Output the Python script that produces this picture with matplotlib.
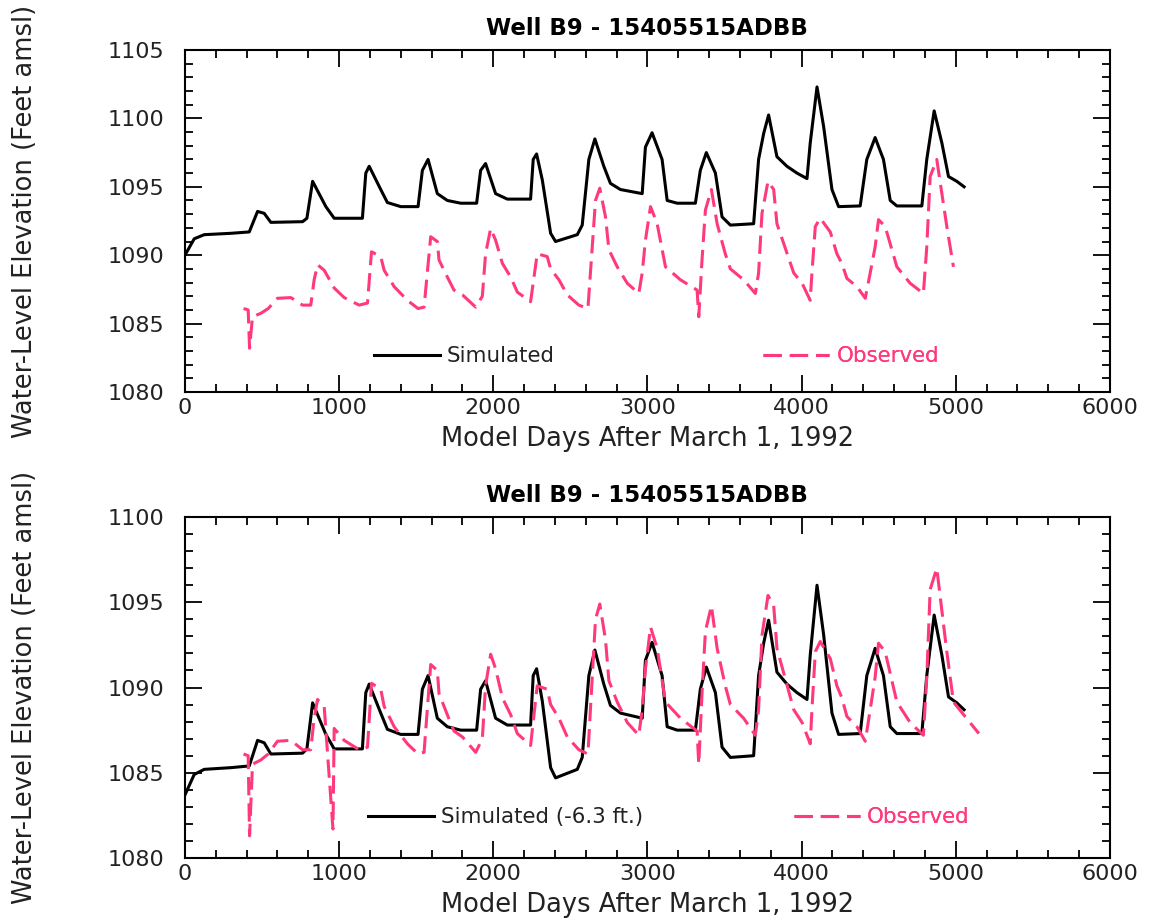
import matplotlib
matplotlib.use("Agg")
import matplotlib.pyplot as plt
from matplotlib.lines import Line2D
from matplotlib.ticker import MultipleLocator
import pandas as pd

# simulated water level, Well B9 (feet amsl)
sim_days = [0, 60, 125, 298, 417, 471, 514, 557, 763, 791,
            828, 914, 968, 1151, 1173, 1195, 1270, 1313, 1400, 1512,
            1540, 1577, 1637, 1702, 1789, 1892, 1918, 1950, 2015, 2091,
            2242, 2259, 2281, 2318, 2372, 2404, 2545, 2577, 2620, 2659,
            2717, 2760, 2825, 2966, 2987, 3030, 3095, 3128, 3193, 3311,
            3343, 3382, 3441, 3484, 3538, 3689, 3721, 3754, 3786, 3840,
            3905, 3970, 4035, 4056, 4100, 4143, 4197, 4240, 4380, 4423,
            4477, 4531, 4575, 4618, 4780, 4812, 4860, 4910, 4953, 5007,
            5054]
sim_level = [1090.0, 1091.2, 1091.5, 1091.6, 1091.7, 1093.2, 1093.06, 1092.4, 1092.45, 1092.7,
             1095.4, 1093.55, 1092.7, 1092.7, 1096.0, 1096.5, 1094.8, 1093.85, 1093.55, 1093.55,
             1096.2, 1097.0, 1094.5, 1094.0, 1093.8, 1093.8, 1096.2, 1096.7, 1094.5, 1094.1,
             1094.1, 1097.0, 1097.4, 1095.5, 1091.6, 1091.0, 1091.5, 1092.2, 1097.0, 1098.5,
             1096.5, 1095.25, 1094.8, 1094.5, 1097.9, 1098.95, 1097.0, 1094.0, 1093.8, 1093.8,
             1096.2, 1097.5, 1096.0, 1092.8, 1092.2, 1092.3, 1097.0, 1098.9, 1100.25, 1097.2,
             1096.5, 1096.0, 1095.6, 1098.2, 1102.3, 1099.4, 1094.8, 1093.55, 1093.6, 1097.0,
             1098.6, 1097.0, 1094.0, 1093.6, 1093.6, 1097.0, 1100.55, 1098.2, 1095.75, 1095.4,
             1095.0]
sim_shift = -6.3

# observed water level
obs_days = [380, 410, 419, 438, 492, 540, 600, 687, 763, 816,
            838, 860, 903, 968, 1033, 1130, 1184, 1210, 1270, 1292,
            1357, 1443, 1512, 1551, 1594, 1637, 1648, 1702, 1745, 1800,
            1886, 1929, 1950, 1983, 2015, 2059, 2113, 2156, 2242, 2285,
            2350, 2372, 2426, 2480, 2555, 2614, 2663, 2691, 2728, 2750,
            2804, 2869, 2944, 2966, 2987, 3020, 3063, 3117, 3214, 3322,
            3333, 3354, 3376, 3415, 3452, 3505, 3538, 3624, 3700, 3721,
            3743, 3782, 3819, 3840, 3884, 3949, 4003, 4056, 4067, 4089,
            4121, 4186, 4229, 4261, 4294, 4359, 4413, 4445, 4477, 4499,
            4542, 4618, 4704, 4790, 4812, 4834, 4877, 4910, 4942, 4985]
obs_level = [1086.1, 1086.0, 1083.2, 1085.5, 1085.75, 1086.1, 1086.85, 1086.9, 1086.35, 1086.35,
             1088.2, 1089.3, 1088.9, 1087.6, 1086.9, 1086.35, 1086.5, 1090.25, 1089.9, 1088.9,
             1087.7, 1086.7, 1086.1, 1086.2, 1091.35, 1091.0, 1089.65, 1088.4, 1087.45, 1087.1,
             1086.2, 1087.0, 1090.1, 1091.95, 1091.1, 1089.4, 1088.4, 1087.3, 1086.6, 1090.1,
             1089.9, 1089.0, 1088.2, 1087.1, 1086.35, 1086.1, 1094.0, 1094.9, 1092.8, 1090.4,
             1089.15, 1087.95, 1087.2, 1088.7, 1091.1, 1093.55, 1092.3, 1089.15, 1088.2, 1087.45,
             1085.5, 1089.65, 1093.3, 1094.8, 1092.3, 1090.1, 1089.0, 1088.2, 1087.2, 1088.7,
             1093.05, 1095.4, 1094.8, 1092.3, 1090.85, 1088.7, 1087.95, 1086.7, 1088.7, 1092.1,
             1092.7, 1091.7, 1090.1, 1089.4, 1088.3, 1087.7, 1086.85, 1088.7, 1090.6, 1092.6,
             1092.1, 1089.15, 1087.95, 1087.2, 1090.6, 1095.75, 1097.0, 1094.5, 1092.1, 1089.15]

# readings that differ / are added in the lower panel
low_days = [419, 960, 5150]
low_level = [1081.3, 1081.7, 1087.3]

title = "Well B9 - 15405515ADBB"
xlab = "Model Days After March 1, 1992"
ylab = "Water-Level Elevation (Feet amsl)"
pink = "#ff3a7c"
txt = "#222222"

obs = pd.Series(obs_level, index=obs_days)
obs_low = obs.copy()
for d, v in zip(low_days, low_level):
    obs_low.loc[d] = v
obs_low = obs_low.sort_index()

sim_low = [v + sim_shift for v in sim_level]

plt.rcParams["font.family"] = "DejaVu Sans"

fig = plt.figure(figsize=(11.51, 9.21), dpi=100)
ax1 = fig.add_axes([0.1607, 0.5744, 0.8036, 0.3713])
ax2 = fig.add_axes([0.1607, 0.0684, 0.8036, 0.3702])

LW = 2.2
DASH = (6, 2.6)


def style(ax, ylo, yhi):
    ax.set_xlim(0, 6000)
    ax.set_ylim(ylo, yhi)
    ax.xaxis.set_major_locator(MultipleLocator(1000))
    ax.xaxis.set_minor_locator(MultipleLocator(200))
    ax.yaxis.set_major_locator(MultipleLocator(5))
    ax.yaxis.set_minor_locator(MultipleLocator(1))
    ax.tick_params(which="both", direction="in", top=True, right=True,
                   width=1.3, labelsize=16, labelcolor=txt)
    ax.tick_params(which="major", length=12)
    ax.tick_params(which="minor", length=6)
    ax.tick_params(axis="x", which="major", pad=4)
    ax.tick_params(axis="y", which="major", pad=15)
    for s in ax.spines.values():
        s.set_linewidth(1.5)
    ax.set_title(title, fontsize=16.5, fontweight="bold", pad=11)
    ax.set_xlabel(xlab, fontsize=18.5, color=txt, labelpad=6)
    ax.set_ylabel(ylab, fontsize=18.5, color=txt, labelpad=50)


def leg(ax, line, text, x, y, color):
    lg = ax.legend(handles=[line], labels=[text], loc="center left",
                   bbox_to_anchor=(x, y), frameon=False, fontsize=15.4,
                   handlelength=3.1, handletextpad=0.33, borderpad=0,
                   borderaxespad=0, labelcolor=color)
    ax.add_artist(lg)


# top panel
ax1.plot(sim_days, sim_level, color="black", lw=LW)
ax1.plot(obs.index, obs.values, color=pink, lw=LW, dashes=DASH)
style(ax1, 1080, 1105)
h_sim = Line2D([], [], color="black", lw=LW)
h_obs = Line2D([], [], color=pink, lw=LW, dashes=DASH)
leg(ax1, h_sim, "Simulated", 0.204, 0.105, txt)
leg(ax1, h_obs, "Observed", 0.625, 0.105, pink)

# bottom panel
ax2.plot(sim_days, sim_low, color="black", lw=LW)
ax2.plot(obs_low.index, obs_low.values, color=pink, lw=LW, dashes=DASH)
style(ax2, 1080, 1100)
leg(ax2, h_sim, "Simulated (-6.3 ft.)", 0.198, 0.12, txt)
leg(ax2, h_obs, "Observed", 0.658, 0.12, pink)

fig.savefig("out.png", dpi=100)
